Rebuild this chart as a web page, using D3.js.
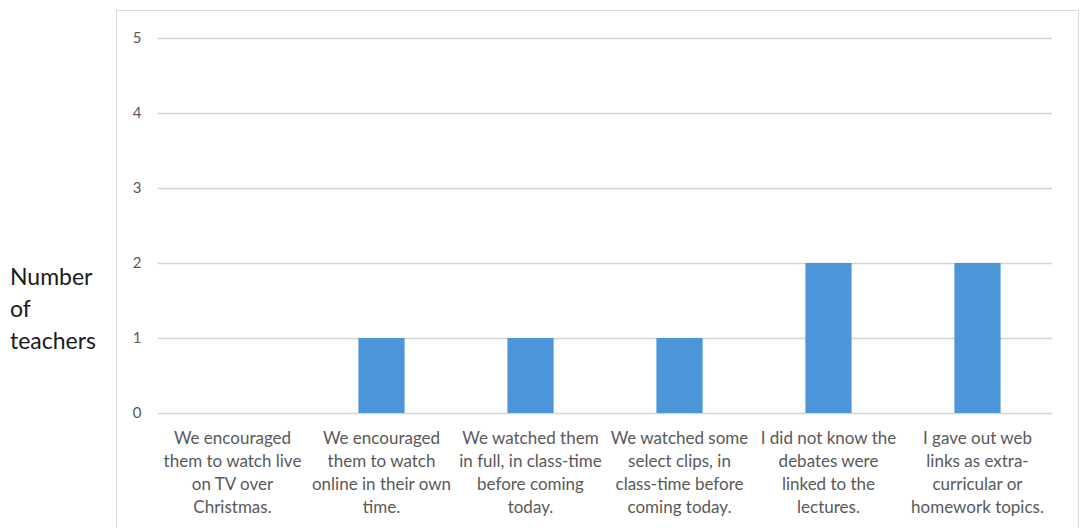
<!DOCTYPE html>
<html>
<head>
<meta charset="utf-8">
<script src="https://cdn.jsdelivr.net/npm/d3@7"></script>
<style>
  body { margin: 0; background: #fff; }
  svg { display: block; }
</style>
</head>
<body>
<div id="chart"></div>
<script>
// Data
const categories = [
  ['We encouraged', 'them to watch live', 'on TV over', 'Christmas.'],
  ['We encouraged', 'them to watch', 'online in their own', 'time.'],
  ['We watched them', 'in full, in class-time', 'before coming', 'today.'],
  ['We watched some', 'select clips, in', 'class-time before', 'coming today.'],
  ['I did not know the', 'debates were', 'linked to the', 'lectures.'],
  ['I gave out web', 'links as extra-', 'curricular or', 'homework topics.']
]
const values = [0, 1, 1, 1, 2, 2]
const yTicks = [0, 1, 2, 3, 4, 5]
const yTitle = ['Number', 'of', 'teachers']

const width = 1085
const height = 528
const margin = { left: 158, right: 33, top: 38, bottom: 115 }
const font = 'Lato, "Open Sans", sans-serif'

const svg = d3.select('#chart')
  .append('svg')
  .attr('width', width)
  .attr('height', height)

// chart frame
svg.append('rect')
  .attr('x', 116.5)
  .attr('y', 10.5)
  .attr('width', 962)
  .attr('height', 540)
  .attr('fill', 'none')
  .attr('stroke', '#d9d9d9')

const x = d3.scaleBand()
  .domain(d3.range(categories.length))
  .range([margin.left, width - margin.right])
  .paddingInner(0.69)
  .paddingOuter(0.345)

const xc = d3.scaleBand()
  .domain(d3.range(categories.length))
  .range([margin.left, width - margin.right])

const y = d3.scaleLinear()
  .domain([0, 5])
  .range([height - margin.bottom, margin.top])

// gridlines
svg.append('g')
  .selectAll('line')
  .data(yTicks)
  .join('line')
  .attr('x1', margin.left)
  .attr('x2', width - margin.right)
  .attr('y1', d => Math.round(y(d)) + 0.5)
  .attr('y2', d => Math.round(y(d)) + 0.5)
  .attr('stroke', '#d4d4d4')
  .attr('stroke-width', 1.3)

// y tick labels
svg.append('g')
  .selectAll('text')
  .data(yTicks)
  .join('text')
  .attr('x', 137)
  .attr('y', d => y(d))
  .attr('dy', '0.35em')
  .attr('text-anchor', 'middle')
  .attr('font-family', font)
  .attr('font-size', 15)
  .attr('fill', '#595959')
  .text(d => d)

// bars
svg.append('g')
  .selectAll('rect')
  .data(values)
  .join('rect')
  .attr('x', (d, i) => x(i))
  .attr('y', d => y(d))
  .attr('width', x.bandwidth())
  .attr('height', d => y(0) - y(d))
  .attr('fill', '#4a96d9')

// category labels
const labels = svg.append('g')
  .selectAll('text')
  .data(categories)
  .join('text')
  .attr('text-anchor', 'middle')
  .attr('font-family', font)
  .attr('font-size', 17)
  .attr('fill', '#595959')

labels.selectAll('tspan')
  .data((d, i) => d.map(line => ({ line, i })))
  .join('tspan')
  .attr('x', d => xc(d.i) + xc.bandwidth() / 2)
  .attr('y', (d, j) => 444 + j * 23)
  .text(d => d.line)

// y axis title
svg.append('text')
  .attr('font-family', font)
  .attr('font-size', 23)
  .attr('fill', '#1a1a1a')
  .selectAll('tspan')
  .data(yTitle)
  .join('tspan')
  .attr('x', 10)
  .attr('y', (d, i) => 285 + i * 32)
  .text(d => d)
</script>
</body>
</html>
